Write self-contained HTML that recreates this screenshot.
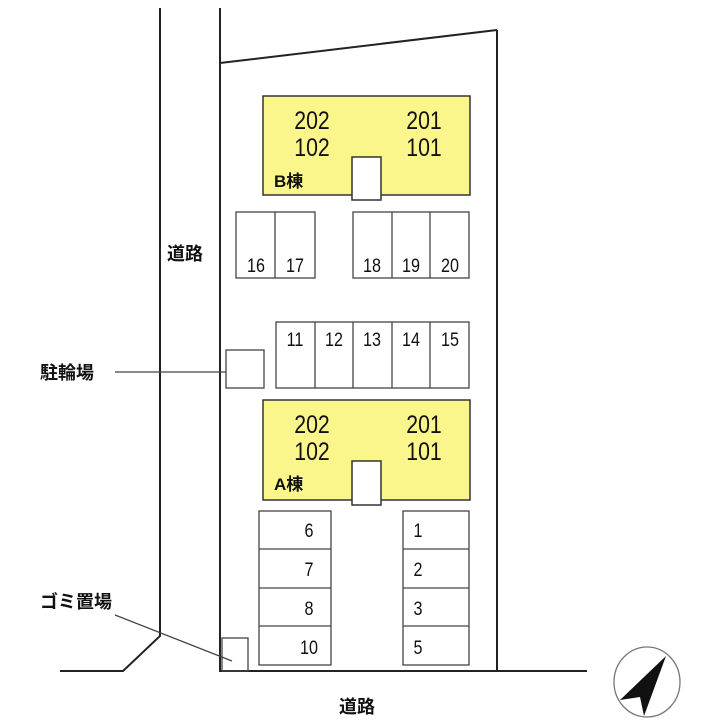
<!DOCTYPE html><html><head><meta charset="utf-8"><style>
body{margin:0;background:#fff}
svg text{font-family:"Liberation Sans","Noto Sans CJK JP",sans-serif;fill:#111}
</style></head><body>
<svg width="720" height="720" viewBox="0 0 720 720" xmlns="http://www.w3.org/2000/svg">
<g fill="none" stroke="#222" stroke-width="2">
<polyline points="160,8 160,636 123,671 60,671"/>
<polyline points="220,8 220,671 587,671"/>
<line x1="220" y1="63" x2="497" y2="30"/>
<line x1="497" y1="30" x2="497" y2="671"/>
</g>
<g stroke="#333" stroke-width="1.5">
<rect x="263" y="96" width="207" height="99" fill="#fbf68c"/>
<rect x="352" y="157" width="29" height="43" fill="#fff"/>
<rect x="263" y="400" width="207" height="100" fill="#fbf68c"/>
<rect x="352" y="461" width="29" height="44" fill="#fff"/>
</g>
<g fill="none" stroke="#444" stroke-width="1.3">
<rect x="236" y="212" width="79" height="66"/><line x1="275" y1="212" x2="275" y2="278"/>
<rect x="353" y="212" width="116" height="66"/><line x1="392" y1="212" x2="392" y2="278"/><line x1="430" y1="212" x2="430" y2="278"/>
<rect x="276" y="322" width="193" height="66"/><line x1="315" y1="322" x2="315" y2="388"/><line x1="353" y1="322" x2="353" y2="388"/><line x1="392" y1="322" x2="392" y2="388"/><line x1="430" y1="322" x2="430" y2="388"/>
<rect x="226" y="350" width="38" height="38"/>
<rect x="259" y="511" width="72" height="154"/><line x1="259" y1="549" x2="331" y2="549"/><line x1="259" y1="588" x2="331" y2="588"/><line x1="259" y1="626" x2="331" y2="626"/>
<rect x="403" y="511" width="66" height="154"/><line x1="403" y1="549" x2="469" y2="549"/><line x1="403" y1="588" x2="469" y2="588"/><line x1="403" y1="626" x2="469" y2="626"/>
<rect x="222" y="638" width="26" height="33"/>
<line x1="115" y1="372" x2="226" y2="372"/>
<line x1="115" y1="615" x2="232" y2="661"/>
<ellipse cx="647" cy="682" rx="33" ry="35" stroke="#777"/>
</g>
<polygon points="666,656 620,700 640,697 644,716" fill="#111"/>
<g font-size="25" text-anchor="middle">
<text transform="translate(312,129) scale(0.85,1)">202</text><text transform="translate(312,156) scale(0.85,1)">102</text>
<text transform="translate(424,129) scale(0.85,1)">201</text><text transform="translate(424,156) scale(0.85,1)">101</text>
<text transform="translate(312,433) scale(0.85,1)">202</text><text transform="translate(312,460) scale(0.85,1)">102</text>
<text transform="translate(424,433) scale(0.85,1)">201</text><text transform="translate(424,460) scale(0.85,1)">101</text>
</g>
<g font-size="17" font-weight="bold">
<text x="274" y="187">B棟</text><text x="274" y="490">A棟</text>
</g>
<g font-size="19" text-anchor="middle">
<text transform="translate(256,272) scale(0.85,1)">16</text><text transform="translate(295,272) scale(0.85,1)">17</text>
<text transform="translate(372,272) scale(0.85,1)">18</text><text transform="translate(411,272) scale(0.85,1)">19</text><text transform="translate(450,272) scale(0.85,1)">20</text>
<text transform="translate(295,346) scale(0.85,1)">11</text><text transform="translate(334,346) scale(0.85,1)">12</text><text transform="translate(372,346) scale(0.85,1)">13</text><text transform="translate(411,346) scale(0.85,1)">14</text><text transform="translate(450,346) scale(0.85,1)">15</text>
<text transform="translate(309,537) scale(0.85,1)">6</text><text transform="translate(309,576) scale(0.85,1)">7</text><text transform="translate(309,615) scale(0.85,1)">8</text><text transform="translate(309,654) scale(0.85,1)">10</text>
<text transform="translate(418,537) scale(0.85,1)">1</text><text transform="translate(418,576) scale(0.85,1)">2</text><text transform="translate(418,615) scale(0.85,1)">3</text><text transform="translate(418,654) scale(0.85,1)">5</text>
</g>
<g font-size="18" font-weight="bold">
<text x="167" y="260">道路</text>
<text x="40" y="379">駐輪場</text>
<text x="40" y="608">ゴミ置場</text>
<text x="339" y="713">道路</text>
</g>
</svg>
</body></html>
